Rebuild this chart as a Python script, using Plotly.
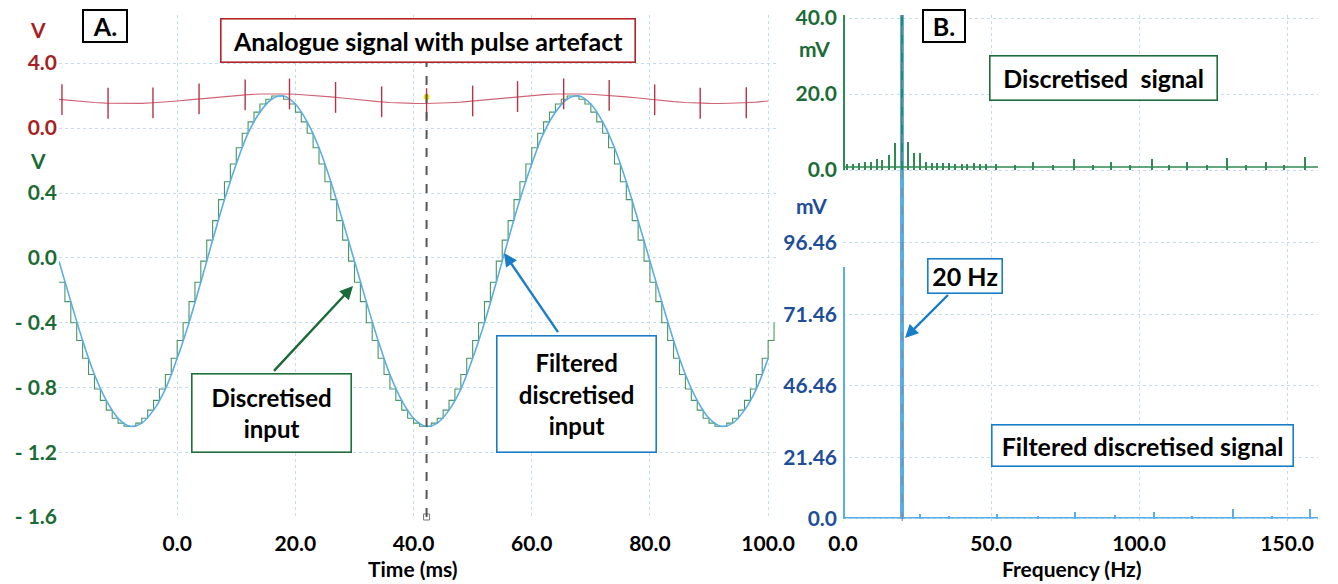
import plotly.graph_objects as go

W, H = 1338, 584

# ---------------- Panel A data (time domain) ----------------
time_ms = list(range(-20, 102))  # 1 ms sampling grid
discretised_v = [
    -0.15, -0.27, -0.40, -0.51, -0.62, -0.72, -0.81, -0.88, -0.94, -0.99, -1.02, -1.04, -1.04, -1.02, -0.99, -0.94,
    -0.88, -0.81, -0.72, -0.62, -0.51, -0.40, -0.27, -0.15, -0.02, 0.11, 0.23, 0.36, 0.47, 0.58, 0.68, 0.77,
    0.84, 0.90, 0.95, 0.98, 1.00, 1.00, 0.98, 0.95, 0.90, 0.84, 0.77, 0.68, 0.58, 0.47, 0.36, 0.23, 0.11, -0.02,
    -0.15, -0.27, -0.40, -0.51, -0.62, -0.72, -0.81, -0.88, -0.94, -0.99, -1.02, -1.04, -1.04, -1.02, -0.99, -0.94,
    -0.88, -0.81, -0.72, -0.62, -0.51, -0.40, -0.27, -0.15, -0.02, 0.11, 0.23, 0.36, 0.47, 0.58, 0.68, 0.77,
    0.84, 0.90, 0.95, 0.98, 1.00, 1.00, 0.98, 0.95, 0.90, 0.84, 0.77, 0.68, 0.58, 0.47, 0.36, 0.23, 0.11, -0.02,
    -0.15, -0.27, -0.40, -0.51, -0.62, -0.72, -0.81, -0.88, -0.94, -0.99, -1.02, -1.04, -1.04, -1.02, -0.99, -0.94,
    -0.88, -0.81, -0.72, -0.62, -0.51, -0.40,
]
filtered_t = list(range(-20, 101, 2))
filtered_v = [
    -0.02, -0.27, -0.51, -0.72, -0.88, -0.99, -1.04, -1.02, -0.94, -0.81, -0.62, -0.40, -0.15,
    0.11, 0.36, 0.58, 0.77, 0.90, 0.98, 1.00, 0.95, 0.84, 0.68, 0.47, 0.23, -0.02,
    -0.27, -0.51, -0.72, -0.88, -0.99, -1.04, -1.02, -0.94, -0.81, -0.62, -0.40, -0.15,
    0.11, 0.36, 0.58, 0.77, 0.90, 0.98, 1.00, 0.95, 0.84, 0.68, 0.47, 0.23, -0.02,
    -0.27, -0.51, -0.72, -0.88, -0.99, -1.04, -1.02, -0.94, -0.81, -0.62,
]
analog_t = list(range(-20, 101, 2))
analog_v = [
    1.76, 1.69, 1.62, 1.57, 1.53, 1.51, 1.50, 1.51, 1.55, 1.59, 1.66, 1.73,
    1.80, 1.87, 1.94, 2.01, 2.05, 2.09, 2.10, 2.09, 2.07, 2.03, 1.98, 1.91, 1.84,
    1.76, 1.69, 1.62, 1.57, 1.53, 1.51, 1.50, 1.51, 1.55, 1.59, 1.66, 1.73,
    1.80, 1.87, 1.94, 2.01, 2.05, 2.09, 2.10, 2.09, 2.07, 2.03, 1.98, 1.91, 1.84,
    1.76, 1.69, 1.62, 1.57, 1.53, 1.51, 1.50, 1.51, 1.55, 1.59, 1.66,
]
pulse_t = [-19.5, -11.7, -4.1, 3.7, 11.5, 19.0, 26.8, 34.6, 42.2, 50.0, 57.6, 65.4, 73.1, 80.8, 88.5, 96.3]
pulse_v = [1.74, 1.52, 1.54, 1.79, 2.04, 2.09, 1.88, 1.61, 1.50, 1.66, 1.93, 2.10, 2.00, 1.73, 1.52, 1.55]
cursor_t = 42.2
cursor_v = 1.9

time_ticks = [-20, 0, 20, 40, 60, 80, 100]
time_labels = ["", "0.0", "20.0", "40.0", "60.0", "80.0", "100.0"]
v_ticks = [1.2, 0.8, 0.4, 0.0, -0.4, -0.8, -1.2, -1.6]
v_labels = ["", "", "0.4", "0.0", "- 0.4", "- 0.8", "- 1.2", "- 1.6"]
va_ticks = [4.0, 0.0]
va_labels = ["4.0", "0.0"]

# ---------------- Panel B data (spectra) ----------------
disc_peak_f = [0.3, 1.5, 3.5, 5.5, 7.4, 9.4, 11.4, 13.4, 15.6, 17.6, 20.0, 22.1, 24.0, 26.0, 28.0, 30.0, 31.9,
               33.9, 35.9, 37.8, 40.1, 42.1, 44.4, 46.3, 48.5, 51.9, 58.0, 64.4, 71.0, 78.1, 84.5, 90.7, 97.0,
               104.3, 110.0, 116.3, 123.0, 129.7, 136.0, 142.9, 149.0, 156.1]
disc_peak_mv = [45.0, 1.7, 1.7, 1.9, 2.0, 2.2, 2.8, 2.6, 3.9, 7.2, 300.0, 7.5, 4.4, 4.4, 2.2, 1.9, 1.9,
                1.75, 1.75, 1.7, 1.6, 1.6, 1.9, 1.7, 1.6, 1.7, 1.3, 2.0, 1.3, 3.0, 1.3, 2.0, 1.3,
                3.0, 1.3, 2.0, 1.3, 3.2, 1.4, 2.1, 1.4, 3.4]
disc_floor_f = [0.0, 160.4]
disc_floor_mv = [0.8, 0.8]
filt_peak_f = [0.5, 20.0, 26.0, 36.0, 52.0, 66.0, 78.5, 91.8, 105.0, 118.0, 131.6, 145.0, 157.6]
filt_peak_mv = [88.0, 500.0, 1.5, 0.8, 1.8, 0.8, 2.2, 1.2, 2.2, 0.8, 3.5, 0.9, 3.5]
filt_floor_f = [0.0, 160.4]
filt_floor_mv = [0.3, 0.3]
cursor_f = 20.0

f_ticks = [0, 50, 100, 150]
f_labels = ["0.0", "50.0", "100.0", "150.0"]
mv_top_ticks = [0, 20, 40]
mv_top_labels = ["0.0", "20.0", "40.0"]
mv_bot_ticks = [0, 21.46, 46.46, 71.46, 96.46]
mv_bot_labels = ["0.0", "21.46", "46.46", "71.46", "96.46"]

# ---------------- styling ----------------
FONT = "Lato"
RED_T = "#a61f24"
GREEN_T = "#1b6b35"
BLUE_T = "#1f4e99"
GRID = "#c4dcec"
RED_L = "#d06476"
GREEN_L = "#4a9660"
BLUE_L = "#5aaee6"


def px(x):
    return x / W


def py(y):
    return 1 - y / H


def bold(labels):
    return ["<b>%s</b>" % t if t else "" for t in labels]


fig = go.Figure()

# Panel A traces
fig.add_trace(go.Scatter(x=analog_t, y=analog_v, xaxis="x", yaxis="y2", mode="lines",
                         line=dict(color=RED_L, width=1.1), hoverinfo="skip"))
fig.add_trace(go.Scatter(x=pulse_t, y=pulse_v, xaxis="x", yaxis="y2", mode="markers",
                         marker=dict(symbol="line-ns", size=22, line=dict(color="#b8324a", width=1.4)),
                         hoverinfo="skip"))
fig.add_trace(go.Scatter(x=time_ms, y=discretised_v, xaxis="x", yaxis="y", mode="lines",
                         line=dict(color=GREEN_L, width=1.1, shape="hv"), hoverinfo="skip"))
fig.add_trace(go.Scatter(x=filtered_t, y=filtered_v, xaxis="x", yaxis="y", mode="lines",
                         line=dict(color=BLUE_L, width=1.6, shape="spline"), hoverinfo="skip"))
fig.add_trace(go.Scatter(x=[cursor_t], y=[cursor_v], xaxis="x", yaxis="y2", mode="markers",
                         marker=dict(color="#f2e600", size=6, line=dict(width=0)), hoverinfo="skip"))
fig.add_trace(go.Scatter(x=[cursor_t], y=[-1.6], xaxis="x", yaxis="y", mode="markers", cliponaxis=False,
                         marker=dict(symbol="square-open", color="#777777", size=6), hoverinfo="skip"))

# Panel B traces
fig.add_trace(go.Bar(x=disc_peak_f, y=disc_peak_mv, xaxis="x2", yaxis="y4", width=0.5,
                     marker=dict(color="#2f8a55", line=dict(width=0)), hoverinfo="skip"))
fig.add_trace(go.Scatter(x=disc_floor_f, y=disc_floor_mv, xaxis="x2", yaxis="y4", mode="lines",
                         line=dict(color="#2f8a55", width=1.5), hoverinfo="skip"))
fig.add_trace(go.Bar(x=filt_peak_f, y=filt_peak_mv, xaxis="x2", yaxis="y3", width=[0.5] + [1.4] + [0.45] * 11,
                     marker=dict(color=BLUE_L, line=dict(width=0)), hoverinfo="skip"))
fig.add_trace(go.Scatter(x=filt_floor_f, y=filt_floor_mv, xaxis="x2", yaxis="y3", mode="lines",
                         line=dict(color=BLUE_L, width=1.5), hoverinfo="skip"))
fig.add_trace(go.Scatter(x=[cursor_f], y=[-3.0], xaxis="x2", yaxis="y3", mode="markers", cliponaxis=False,
                         marker=dict(symbol="square-open", color="#777777", size=6), hoverinfo="skip"))

# cursors
fig.add_shape(type="line", xref="x", yref="y domain", x0=cursor_t, x1=cursor_t, y0=0, y1=1,
              line=dict(color="#555555", width=2, dash="dash"), layer="above")
fig.add_shape(type="line", xref="x2", yref="y3 domain", x0=cursor_f, x1=cursor_f, y0=0, y1=1,
              line=dict(color="#8a8a8a", width=1.2, dash="dash"), layer="above")

tick_font = lambda c, s=21: dict(family=FONT, size=s, color=c, weight="bold")
grid_common = dict(showgrid=True, gridcolor=GRID, griddash="dot", gridwidth=1, zeroline=False,
                   showline=False, ticks="", automargin=False, fixedrange=True)

fig.update_layout(
    width=W, height=H, autosize=False, template="none",
    margin=dict(l=0, r=0, t=0, b=0),
    paper_bgcolor="white", plot_bgcolor="white",
    showlegend=False, barmode="overlay", bargap=0,
    xaxis=dict(domain=[px(59), px(777)], range=[-20, 101.5], anchor="y",
               tickmode="array", tickvals=time_ticks, ticktext=bold(time_labels),
               tickfont=tick_font("black"), ticklabelstandoff=12, **grid_common),
    yaxis=dict(domain=[py(517), py(15)], range=[-1.6, 1.5], anchor="x",
               tickmode="array", tickvals=v_ticks, ticktext=bold(v_labels),
               tickfont=tick_font(GREEN_T), ticklabelstandoff=1, **grid_common),
    yaxis2=dict(overlaying="y", anchor="x", side="left", range=[-23.94, 6.95],
                tickmode="array", tickvals=va_ticks, ticktext=bold(va_labels),
                tickfont=tick_font(RED_T), ticklabelstandoff=1,
                showgrid=False, zeroline=False, showline=False, ticks="", automargin=False),
    xaxis2=dict(domain=[px(843), px(1318)], range=[0, 160.4], anchor="y3",
                tickmode="array", tickvals=f_ticks, ticktext=bold(f_labels),
                tickfont=tick_font("black"), ticklabelstandoff=8, **grid_common),
    yaxis3=dict(domain=[py(521), py(15)], range=[-0.8, 176.0], anchor="x2",
                tickmode="array", tickvals=mv_bot_ticks, ticktext=bold(mv_bot_labels),
                tickfont=tick_font(BLUE_T), ticklabelstandoff=5, **grid_common),
    yaxis4=dict(overlaying="y3", anchor="x2", side="left", range=[-92.37, 40.79],
                tickmode="array", tickvals=mv_top_ticks, ticktext=bold(mv_top_labels),
                tickfont=tick_font(GREEN_T), ticklabelstandoff=5, **grid_common),
)


def label(text, cx, cy, color, size=21):
    fig.add_annotation(text="<b>%s</b>" % text, x=px(cx), y=py(cy), xref="paper", yref="paper",
                       xanchor="center", yanchor="middle", showarrow=False,
                       font=dict(family=FONT, size=size, color=color, weight="bold"))


def arrow(x_tail, y_tail, x_tip, y_tip, color):
    fig.add_annotation(text=" ", x=px(x_tip), y=py(y_tip), xref="paper", yref="paper",
                       ax=x_tail - x_tip, ay=y_tail - y_tip, axref="pixel", ayref="pixel",
                       showarrow=True, arrowhead=2, arrowsize=1.1, arrowwidth=2.4, arrowcolor=color,
                       standoff=0, startstandoff=0, font=dict(size=2))


def box(text, cx, cy, w, h, color, size=25, bw=1.6):
    fig.add_annotation(text="<b>%s</b>" % text, x=px(cx), y=py(cy), xref="paper", yref="paper",
                       xanchor="center", yanchor="middle", showarrow=False,
                       width=w, height=h, align="center", valign="middle",
                       bordercolor=color, borderwidth=bw, borderpad=0, bgcolor="white",
                       font=dict(family=FONT, size=size, color="black", weight="bold"))


# axis unit labels
label("V", 38, 30, RED_T)
label("V", 38, 160, GREEN_T)
label("mV", 815, 48, GREEN_T)
label("mV", 811, 205, BLUE_T)
label("Time (ms)", 413, 568, "black")
label("Frequency (Hz)", 1072, 568, "black")

# arrows first, boxes on top
arrow(272, 373, 353, 286, "#1a6b3a")
arrow(560, 335, 504, 253, "#1a7dc8")
arrow(950, 293, 905, 338, "#1a7dc8")

box("A.", 105, 26, 42, 30, "black", size=25, bw=2)
box("B.", 944, 26, 40, 30, "black", size=25, bw=2)
box("Analogue signal with pulse artefact", 428, 40, 413, 42, "#b3242b")
box("Discretised<br>input", 271, 413, 158, 77, "#1f6e3c", size=24)
box("Filtered<br>discretised<br>input", 576, 394, 158, 115, "#1a7dc8", size=24)
box("Discretised  signal", 1103, 78, 226, 43, "#1f6e3c")
box("20 Hz", 965, 276, 73, 33, "#1a7dc8")
box("Filtered discretised signal", 1142, 445, 300, 40, "#1a7dc8")

fig.write_html("out.html", config={"displayModeBar": False},
               post_script="document.body.style.margin='0px';")
